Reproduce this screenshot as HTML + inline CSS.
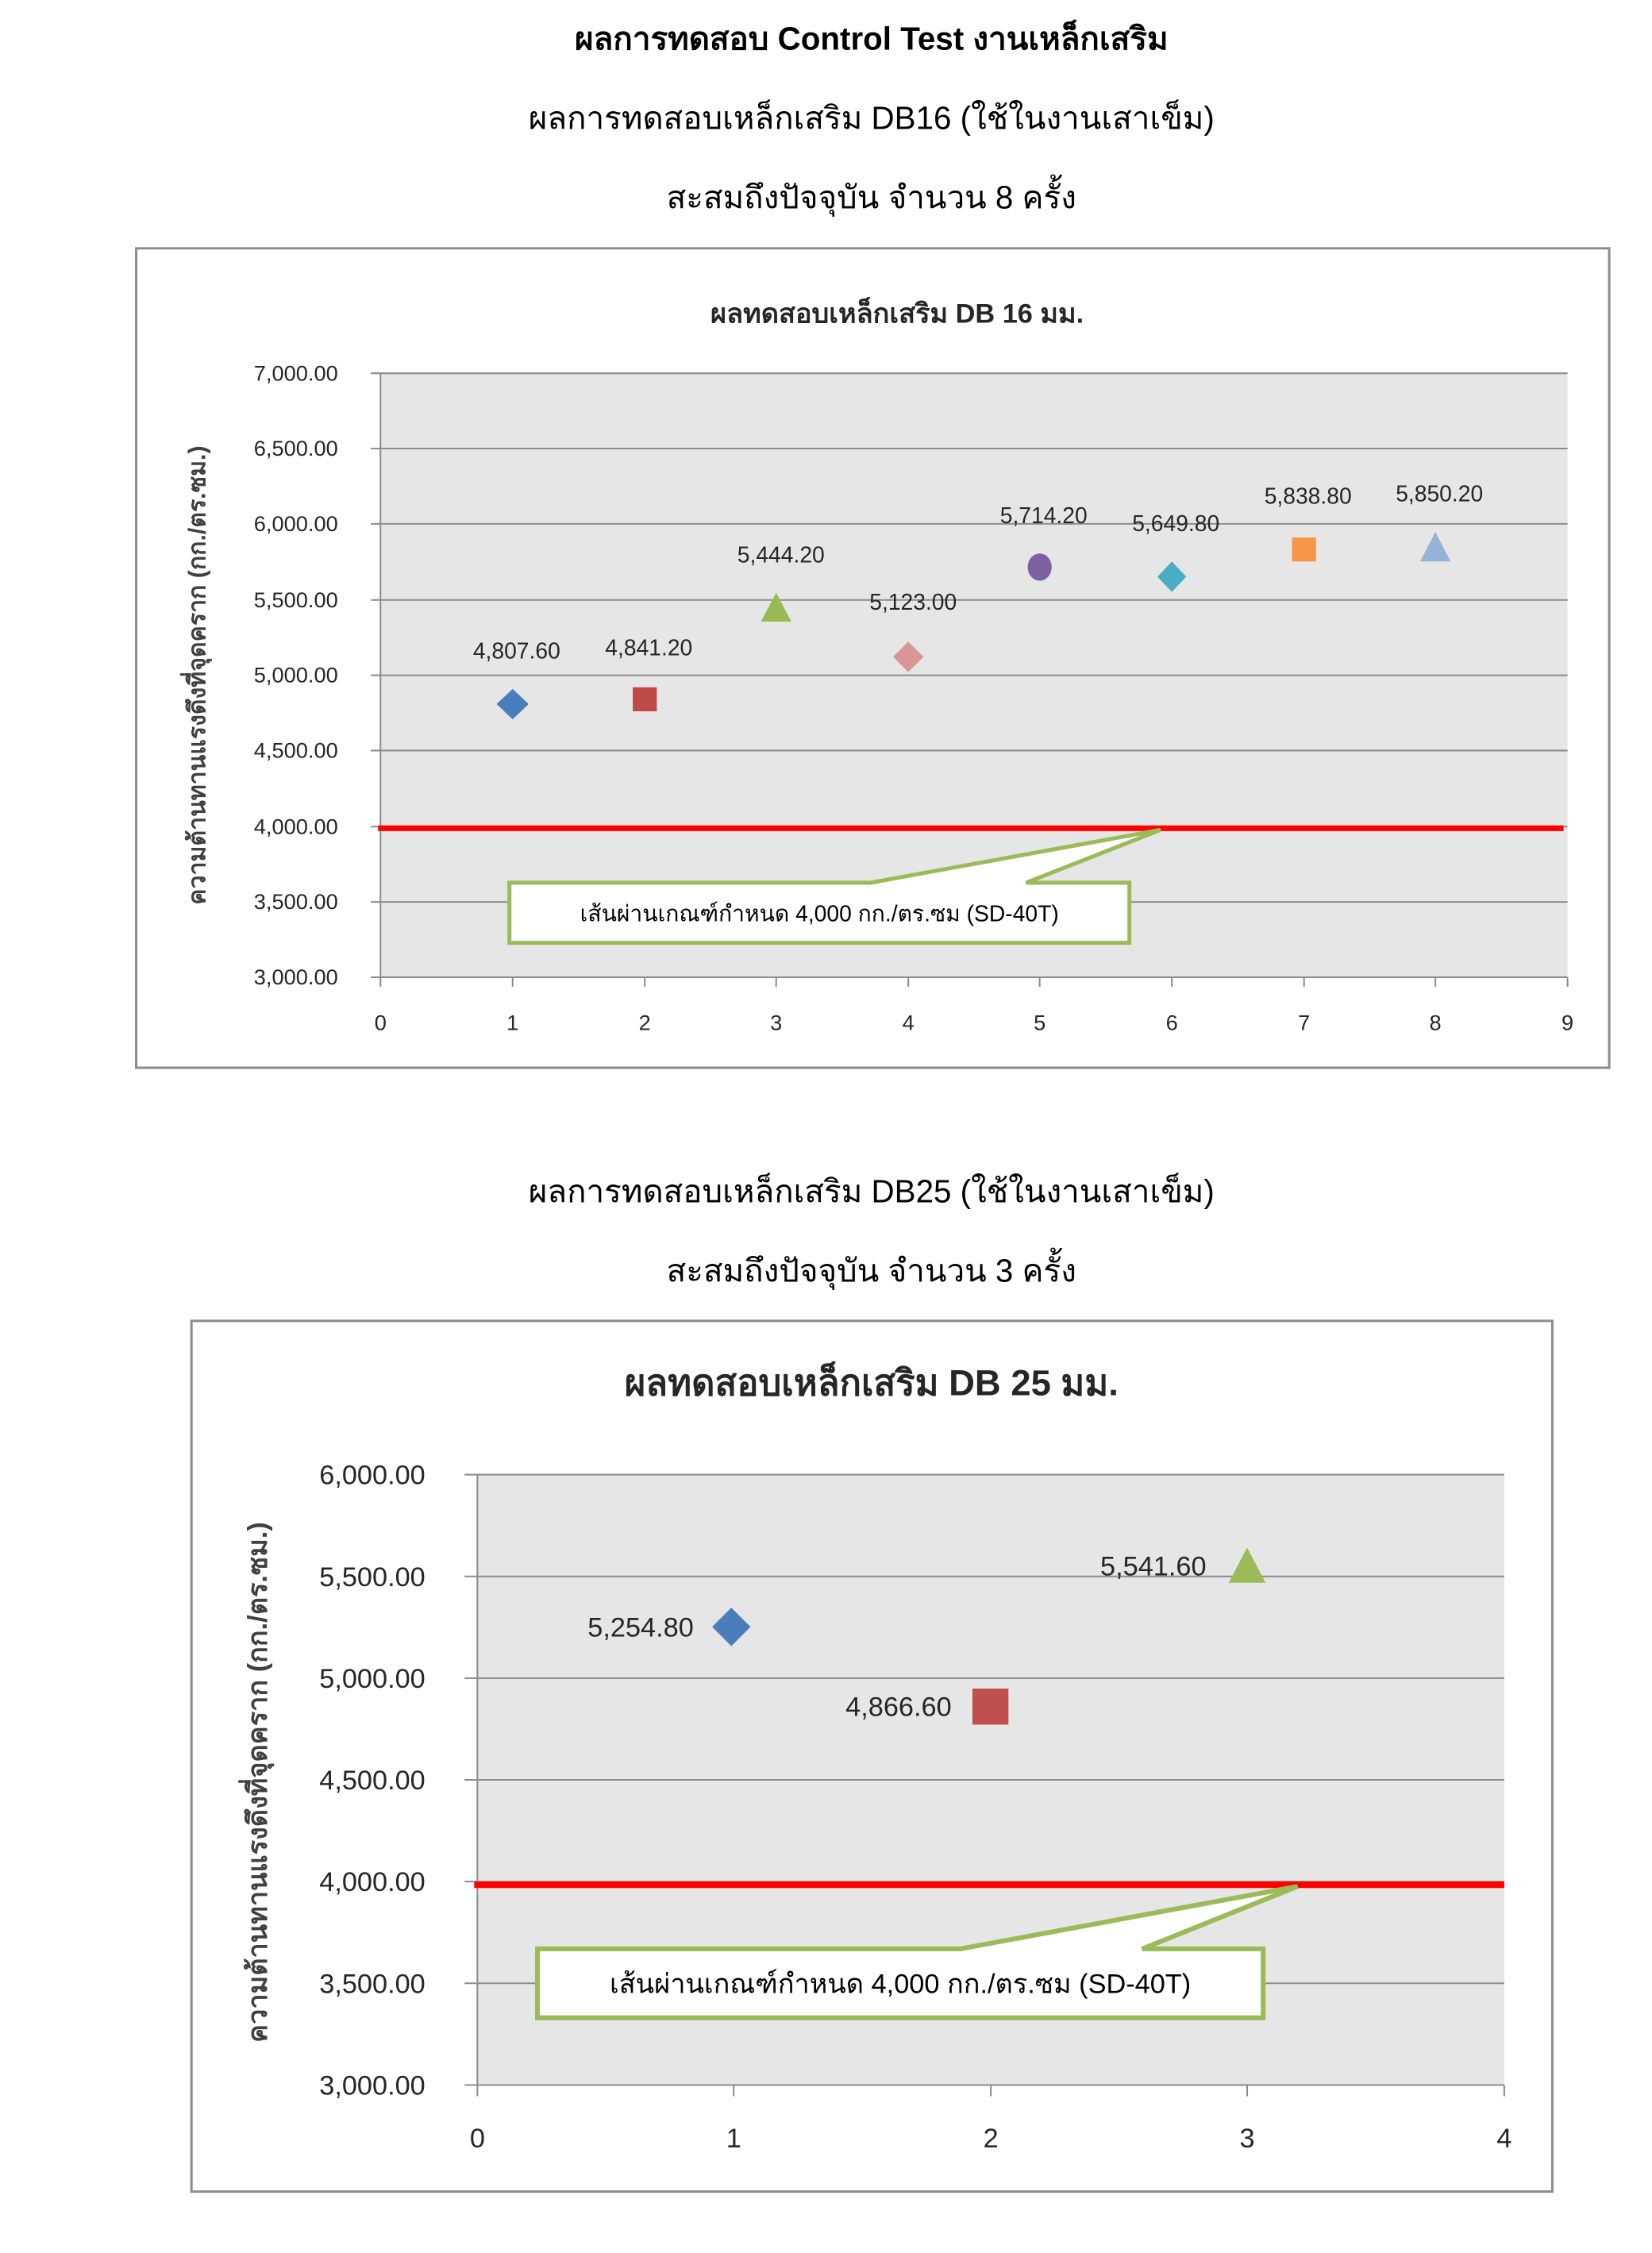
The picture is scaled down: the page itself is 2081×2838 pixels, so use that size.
<!DOCTYPE html>
<html><head><meta charset="utf-8"><style>
html,body{margin:0;padding:0;background:#fff;}
svg{display:block;}
text{font-family:"Liberation Sans","DejaVu Sans",sans-serif;}
</style></head><body>
<svg width="2081" height="2838" viewBox="0 0 2081 2838" xmlns="http://www.w3.org/2000/svg">
<rect width="2081" height="2838" fill="#fff"/>
<g transform="scale(1.009)">
<!-- Headings -->
<text x="1088" y="62" font-size="40" font-weight="bold" text-anchor="middle" fill="#000">ผลการทดสอบ Control Test งานเหล็กเสริม</text>
<text x="1088" y="161" font-size="40" text-anchor="middle" fill="#000">ผลการทดสอบเหล็กเสริม DB16 (ใช้ในงานเสาเข็ม)</text>
<text x="1088" y="260" font-size="40" text-anchor="middle" fill="#000">สะสมถึงปัจจุบัน จำนวน 8 ครั้ง</text>

<!-- Chart 1 -->
<rect x="170" y="310" width="1839" height="1023" fill="#fff" stroke="#8c8c8c" stroke-width="3"/>
<text x="1120" y="403" font-size="34" font-weight="bold" text-anchor="middle" fill="#262626">ผลทดสอบเหล็กเสริม DB 16 มม.</text>
<rect x="475" y="466" width="1482" height="754" fill="#e6e6e6"/>
<g stroke="#8c8c8c" stroke-width="2">
<line x1="463" y1="466" x2="1957" y2="466"/>
<line x1="463" y1="560" x2="1957" y2="560"/>
<line x1="463" y1="654" x2="1957" y2="654"/>
<line x1="463" y1="749" x2="1957" y2="749"/>
<line x1="463" y1="843" x2="1957" y2="843"/>
<line x1="463" y1="937" x2="1957" y2="937"/>
<line x1="463" y1="1032" x2="1957" y2="1032"/>
<line x1="463" y1="1126" x2="1957" y2="1126"/>
<line x1="463" y1="1220" x2="1957" y2="1220"/>
<line x1="475" y1="466" x2="475" y2="1232"/>
<line x1="640" y1="1220" x2="640" y2="1232"/>
<line x1="805" y1="1220" x2="805" y2="1232"/>
<line x1="969" y1="1220" x2="969" y2="1232"/>
<line x1="1134" y1="1220" x2="1134" y2="1232"/>
<line x1="1298" y1="1220" x2="1298" y2="1232"/>
<line x1="1463" y1="1220" x2="1463" y2="1232"/>
<line x1="1628" y1="1220" x2="1628" y2="1232"/>
<line x1="1792" y1="1220" x2="1792" y2="1232"/>
<line x1="1957" y1="1220" x2="1957" y2="1232"/>
</g>
<g font-size="27" fill="#262626" text-anchor="end">
<text x="422" y="475">7,000.00</text>
<text x="422" y="569">6,500.00</text>
<text x="422" y="663">6,000.00</text>
<text x="422" y="758">5,500.00</text>
<text x="422" y="852">5,000.00</text>
<text x="422" y="946">4,500.00</text>
<text x="422" y="1041">4,000.00</text>
<text x="422" y="1135">3,500.00</text>
<text x="422" y="1229">3,000.00</text>
</g>
<g font-size="27" fill="#262626" text-anchor="middle">
<text x="475" y="1286">0</text><text x="640" y="1286">1</text><text x="805" y="1286">2</text>
<text x="969" y="1286">3</text><text x="1134" y="1286">4</text><text x="1298" y="1286">5</text>
<text x="1463" y="1286">6</text><text x="1628" y="1286">7</text><text x="1792" y="1286">8</text>
<text x="1957" y="1286">9</text>
</g>
<text transform="translate(256,843) rotate(-90)" font-size="30" font-weight="bold" fill="#404040" text-anchor="middle">ความต้านทานแรงดึงที่จุดคราก (กก./ตร.ซม.)</text>
<line x1="472" y1="1034" x2="1952" y2="1034" stroke="#ff0000" stroke-width="7"/>
<polygon points="640,860 660,879 640,898 620,879" fill="#4a7ebb"/>
<rect x="790" y="858" width="30" height="30" fill="#be4b48"/>
<polygon points="969,740 988,776 950,776" fill="#98b954"/>
<polygon points="1134,801 1153,820 1134,839 1115,820" fill="#d99694"/>
<ellipse cx="1298" cy="708" rx="15" ry="17" fill="#7d60a0"/>
<polygon points="1463,701 1481,720 1463,739 1445,720" fill="#4bacc6"/>
<rect x="1613" y="671" width="30" height="30" fill="#f79646"/>
<polygon points="1792,664 1811,701 1773,701" fill="#95b3d7"/>
<g font-size="28" fill="#262626" text-anchor="middle">
<text x="645" y="822">4,807.60</text>
<text x="810" y="818">4,841.20</text>
<text x="975" y="702">5,444.20</text>
<text x="1140" y="761">5,123.00</text>
<text x="1303" y="653">5,714.20</text>
<text x="1468" y="663">5,649.80</text>
<text x="1633" y="629">5,838.80</text>
<text x="1797" y="626">5,850.20</text>
</g>
<path d="M636,1102 L1087,1102 L1449,1036 L1281,1102 L1410,1102 L1410,1177 L636,1177 Z" fill="#fff" stroke="#9bbb59" stroke-width="5"/>
<text x="1023" y="1150" font-size="28" fill="#000" text-anchor="middle">เส้นผ่านเกณฑ์กำหนด 4,000 กก./ตร.ซม (SD-40T)</text>

<!-- Headings 2 -->
<text x="1088" y="1501" font-size="40" text-anchor="middle" fill="#000">ผลการทดสอบเหล็กเสริม DB25 (ใช้ในงานเสาเข็ม)</text>
<text x="1088" y="1600" font-size="40" text-anchor="middle" fill="#000">สะสมถึงปัจจุบัน จำนวน 3 ครั้ง</text>

<!-- Chart 2 -->
<rect x="239" y="1649" width="1699" height="1087" fill="#fff" stroke="#8c8c8c" stroke-width="3"/>
<text x="1088" y="1742" font-size="45" font-weight="bold" text-anchor="middle" fill="#262626">ผลทดสอบเหล็กเสริม DB 25 มม.</text>
<rect x="596" y="1841" width="1282" height="762" fill="#e6e6e6"/>
<g stroke="#8c8c8c" stroke-width="2">
<line x1="580" y1="1841" x2="1878" y2="1841"/>
<line x1="580" y1="1968" x2="1878" y2="1968"/>
<line x1="580" y1="2095" x2="1878" y2="2095"/>
<line x1="580" y1="2222" x2="1878" y2="2222"/>
<line x1="580" y1="2349" x2="1878" y2="2349"/>
<line x1="580" y1="2476" x2="1878" y2="2476"/>
<line x1="580" y1="2603" x2="1878" y2="2603"/>
<line x1="596" y1="1841" x2="596" y2="2617"/>
<line x1="916" y1="2603" x2="916" y2="2617"/>
<line x1="1237" y1="2603" x2="1237" y2="2617"/>
<line x1="1557" y1="2603" x2="1557" y2="2617"/>
<line x1="1878" y1="2603" x2="1878" y2="2617"/>
</g>
<g font-size="34" fill="#262626" text-anchor="end">
<text x="531" y="1853">6,000.00</text>
<text x="531" y="1980">5,500.00</text>
<text x="531" y="2107">5,000.00</text>
<text x="531" y="2234">4,500.00</text>
<text x="531" y="2361">4,000.00</text>
<text x="531" y="2488">3,500.00</text>
<text x="531" y="2615">3,000.00</text>
</g>
<g font-size="34" fill="#262626" text-anchor="middle">
<text x="596" y="2681">0</text><text x="916" y="2681">1</text><text x="1237" y="2681">2</text>
<text x="1557" y="2681">3</text><text x="1878" y="2681">4</text>
</g>
<text transform="translate(333,2225) rotate(-90)" font-size="34" font-weight="bold" fill="#404040" text-anchor="middle">ความต้านทานแรงดึงที่จุดคราก (กก./ตร.ซม.)</text>
<line x1="592" y1="2353" x2="1878" y2="2353" stroke="#ff0000" stroke-width="8"/>
<polygon points="913,2007 937,2031 913,2055 889,2031" fill="#4a7ebb"/>
<rect x="1214" y="2108" width="45" height="45" fill="#c0504d"/>
<polygon points="1557,1932 1580,1976 1534,1976" fill="#9bbb59"/>
<g font-size="34" fill="#262626" text-anchor="end">
<text x="866" y="2043">5,254.80</text>
<text x="1188" y="2142">4,866.60</text>
<text x="1506" y="1967">5,541.60</text>
</g>
<path d="M671,2433 L1199,2433 L1620,2355 L1426,2433 L1577,2433 L1577,2519 L671,2519 Z" fill="#fff" stroke="#9bbb59" stroke-width="6"/>
<text x="1124" y="2488" font-size="34" fill="#000" text-anchor="middle">เส้นผ่านเกณฑ์กำหนด 4,000 กก./ตร.ซม (SD-40T)</text>
</g>
</svg>
</body></html>
